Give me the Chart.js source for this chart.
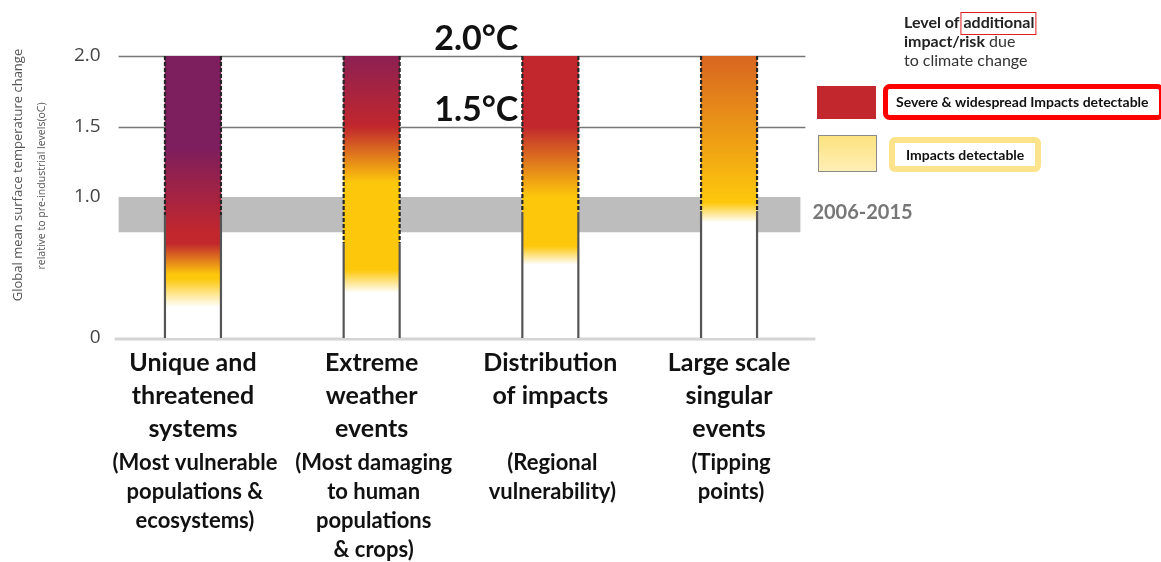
<!DOCTYPE html>
<html>
<head>
<meta charset="utf-8">
<title>Reasons for concern</title>
<script src="https://cdn.jsdelivr.net/npm/chart.js@4.4.1/dist/chart.umd.min.js"></script>
<style>
    body { margin: 0; background: #fff; }
    #chart { display: block; }
</style>
</head>
<body>
<canvas id="chart" width="1161" height="562"></canvas>
<script>
// Reasons for concern (axis labels) and their captions
const categories = [
    ['Unique and', 'threatened', 'systems'],
    ['Extreme', 'weather', 'events'],
    ['Distribution', 'of impacts'],
    ['Large scale', 'singular', 'events']
];
const subtitles = [
    ['(Most vulnerable', 'populations &', 'ecosystems)'],
    ['(Most damaging', 'to human', 'populations', '& crops)'],
    ['(Regional', 'vulnerability)'],
    ['(Tipping', 'points)']
];

// Top of each ember (warming in °C)
const emberTop = [2.0, 2.0, 2.0, 2.0];

// Warming (°C) where each risk transition starts / is complete
const yellowStart = [0.22, 0.32, 0.52, 0.82];
const yellowFull  = [0.42, 0.48, 0.65, 0.96];
const redStart    = [0.45, 1.10, 1.00, 0.97];
const redFull     = [0.67, 1.50, 1.50, 2.65];
const purpleStart = [0.75, 1.50, null, null];
const purpleFull  = [1.35, 2.15, null, null];

// Edges are dashed above this level (°C)
const confidenceFrom = [0.87, 0.67, 0.89, 0.90];

// Observed warming 2006-2015 (°C)
const recentWarming = [0.75, 1.0];

// y axis ticks and highlighted levels
const yTicks = [0, 1.0, 1.5, 2.0];
const highlightLevels = [2.0, 1.5];

// colours
const WHITE = '#ffffff';
const YELLOW = '#fdc80c';
const RED = '#c1272d';
const PURPLE = '#7d1e5e';
const LABEL_FONT = "Lato, 'Open Sans', sans-serif";

// Builds the ember gradient for one column
function emberFill(context) {
    const chart = context.chart;
    const y = chart.scales.y;
    const i = context.dataIndex;
    if (!chart.chartArea || !y || i === undefined) return 'rgba(0,0,0,0)';
    const gradMax = 3;
    const g = chart.ctx.createLinearGradient(0, y.getPixelForValue(0), 0, y.getPixelForValue(gradMax));
    const stops = [
        [0, WHITE],
        [yellowStart[i], WHITE],
        [yellowFull[i], YELLOW],
        [redStart[i], YELLOW],
        [redFull[i], RED]
    ];
    if (purpleStart[i] !== null) {
        stops.push([purpleStart[i], RED], [purpleFull[i], PURPLE]);
    }
    stops.forEach(([v, c]) => g.addColorStop(Math.min(v / gradMax, 1), c));
    return g;
}

// Legend on the right side
function drawLegend(ctx) {
    ctx.save();
    ctx.textAlign = 'left';
    ctx.textBaseline = 'middle';

    // heading
    ctx.fillStyle = '#222';
    ctx.font = 'bold 16px ' + LABEL_FONT;
    ctx.fillText('Level of ', 904, 23);
    const w1 = ctx.measureText('Level of ').width;
    ctx.fillText('additional', 904 + w1, 23);
    const w2 = ctx.measureText('additional').width;
    ctx.strokeStyle = '#e0201f';
    ctx.lineWidth = 1;
    ctx.strokeRect(904 + w1 - 2.5, 12.5, w2 + 4, 22);

    ctx.fillText('impact/risk', 904, 42);
    const w3 = ctx.measureText('impact/risk').width;
    ctx.font = '16px ' + LABEL_FONT;
    ctx.fillStyle = '#333';
    ctx.fillText(' due', 904 + w3, 42);
    ctx.fillText('to climate change', 904, 61);

    // severe impacts
    ctx.fillStyle = RED;
    ctx.fillRect(817, 86, 59, 33);
    ctx.strokeStyle = '#ff0000';
    ctx.lineWidth = 5;
    ctx.beginPath();
    ctx.roundRect(885.5, 86.5, 276, 31, 4);
    ctx.stroke();
    ctx.fillStyle = '#111';
    ctx.font = 'bold 14px ' + LABEL_FONT;
    ctx.fillText('Severe & widespread Impacts detectable', 896, 102);

    // detectable impacts
    const g = ctx.createLinearGradient(0, 135, 0, 172);
    g.addColorStop(0, '#fde27e');
    g.addColorStop(1, '#feefb6');
    ctx.fillStyle = g;
    ctx.fillRect(818, 135, 59, 37);
    ctx.strokeStyle = '#8a8a8a';
    ctx.lineWidth = 1;
    ctx.strokeRect(818.5, 135.5, 58, 36);
    ctx.strokeStyle = '#fde48c';
    ctx.lineWidth = 6;
    ctx.beginPath();
    ctx.roundRect(892, 140, 146, 29, 3);
    ctx.stroke();
    ctx.fillStyle = '#111';
    ctx.fillText('Impacts detectable', 906, 155);
    ctx.restore();
}

const emberPlugin = {
    id: 'emberExtras',
    beforeDatasetsDraw(chart) {
        const { ctx, chartArea } = chart;
        const y = chart.scales.y;
        const left = chartArea.left + 15;
        ctx.save();

        // observed warming band
        const bandTop = y.getPixelForValue(recentWarming[1]);
        const bandBottom = y.getPixelForValue(recentWarming[0]);
        ctx.fillStyle = '#bdbdbd';
        ctx.fillRect(left, bandTop, chartArea.right - 18 - left, bandBottom - bandTop);

        // 1.5 and 2.0 reference lines
        ctx.strokeStyle = '#777';
        ctx.lineWidth = 1.5;
        highlightLevels.forEach(v => {
            const py = Math.round(y.getPixelForValue(v)) + 0.5;
            ctx.beginPath();
            ctx.moveTo(left, py);
            ctx.lineTo(chartArea.right - 13, py);
            ctx.stroke();
        });

        // zero baseline
        ctx.strokeStyle = '#d4d4d4';
        ctx.lineWidth = 3;
        const y0 = y.getPixelForValue(0) + 1;
        ctx.beginPath();
        ctx.moveTo(chartArea.left + 11, y0);
        ctx.lineTo(chartArea.right - 3, y0);
        ctx.stroke();
        ctx.restore();
    },
    afterDatasetsDraw(chart) {
        const { ctx } = chart;
        const y = chart.scales.y;
        const meta = chart.getDatasetMeta(0);
        ctx.save();
        ctx.lineWidth = 2.2;

        // column edges: dashed above confidence level, solid below
        meta.data.forEach((bar, i) => {
            const half = bar.width / 2;
            const yTop = y.getPixelForValue(emberTop[i]);
            const yConf = y.getPixelForValue(confidenceFrom[i]);
            const yBase = y.getPixelForValue(0);
            [bar.x - half, bar.x + half].forEach(px => {
                ctx.setLineDash([4, 2]);
                ctx.strokeStyle = '#262626';
                ctx.beginPath();
                ctx.moveTo(px, yTop);
                ctx.lineTo(px, yConf);
                ctx.stroke();
                ctx.setLineDash([]);
                ctx.strokeStyle = '#555';
                ctx.beginPath();
                ctx.moveTo(px, yConf);
                ctx.lineTo(px, yBase);
                ctx.stroke();
            });
        });

        // 2.0°C and 1.5°C labels
        const bar3 = meta.data[2];
        const labelRight = bar3.x - bar3.width / 2 - 4;
        ctx.fillStyle = '#111';
        ctx.font = 'bold 34px ' + LABEL_FONT;
        ctx.textAlign = 'right';
        ctx.textBaseline = 'alphabetic';
        highlightLevels.forEach(v => {
            ctx.fillText(v.toFixed(1) + '°C', labelRight, y.getPixelForValue(v) - 6);
        });

        // 2006-2015 label next to the band
        const bandMid = y.getPixelForValue((recentWarming[0] + recentWarming[1]) / 2);
        ctx.fillStyle = '#777';
        ctx.font = 'bold 20px ' + LABEL_FONT;
        ctx.textAlign = 'left';
        ctx.textBaseline = 'middle';
        ctx.fillText('2006-2015', chart.chartArea.right - 6, bandMid - 2);
        ctx.restore();
    },
    afterDraw(chart) {
        const { ctx, chartArea } = chart;
        const x = chart.scales.x;
        ctx.save();

        // captions under the category labels
        ctx.fillStyle = '#111';
        ctx.font = 'bold 22px ' + LABEL_FONT;
        ctx.textAlign = 'center';
        ctx.textBaseline = 'middle';
        subtitles.forEach((lines, i) => {
            const px = x.getPixelForValue(i) + 2;
            lines.forEach((line, j) => {
                ctx.fillText(line, px, chartArea.bottom + 125 + j * 29);
            });
        });

        // y axis title (two sizes)
        ctx.fillStyle = '#555';
        ctx.translate(18, 175);
        ctx.rotate(-Math.PI / 2);
        ctx.font = "13px 'Open Sans', sans-serif";
        ctx.fillText('Global mean surface temperature change', 0, 0);
        ctx.font = "10.5px 'Open Sans', sans-serif";
        ctx.fillText('relative to pre-industrial levels(oC)', -11, 24);
        ctx.restore();

        drawLegend(ctx);
    }
};

const chartCtx = document.getElementById('chart').getContext('2d');
const emberChart = new Chart(chartCtx, {
    type: 'bar',
    data: {
        labels: categories,
        datasets: [{
            data: emberTop,
            backgroundColor: emberFill,
            borderWidth: 0,
            barThickness: 56
        }]
    },
    options: {
        responsive: false,
        animation: false,
        devicePixelRatio: 1,
        layout: {
            padding: { top: 56, right: 342.6, bottom: 0, left: 0 }
        },
        plugins: {
            legend: { display: false },
            tooltip: { enabled: false }
        },
        scales: {
            x: {
                grid: { display: false, drawTicks: false },
                border: { display: false },
                afterFit: scale => { scale.height = 224; },
                ticks: {
                    autoSkip: false,
                    maxRotation: 0,
                    minRotation: 0,
                    padding: 8,
                    color: '#111',
                    font: { family: LABEL_FONT, size: 25, weight: 'bold', lineHeight: 1.32 }
                }
            },
            y: {
                min: 0,
                max: 2.0,
                grid: { display: false, drawTicks: false },
                border: { display: false },
                afterFit: scale => { scale.width = 103.6; },
                afterBuildTicks: scale => {
                    scale.ticks = yTicks.map(v => ({ value: v }));
                },
                ticks: {
                    padding: 3,
                    color: '#444',
                    font: { family: "'Open Sans', sans-serif", size: 19 },
                    callback: v => v === 0 ? '0' : v.toFixed(1)
                }
            }
        }
    },
    plugins: [emberPlugin]
});
</script>
</body>
</html>
